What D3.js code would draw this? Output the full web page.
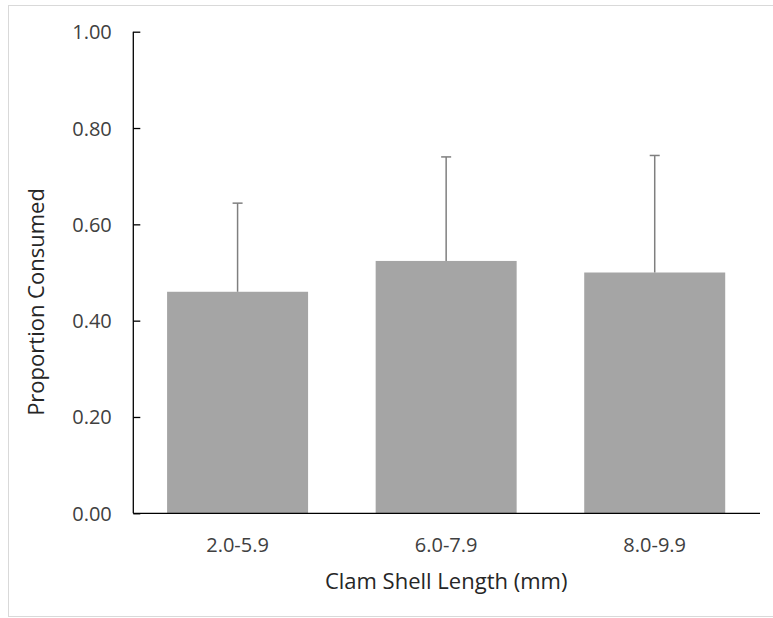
<!DOCTYPE html>
<html>
<head>
<meta charset="utf-8">
<script src="https://cdn.jsdelivr.net/npm/d3@7"></script>
<style>
  html, body { margin: 0; padding: 0; background: #ffffff; }
  svg { display: block; }
  text { font-family: "Open Sans", "Noto Sans", sans-serif; }
</style>
</head>
<body>
<script>
const categories = ["2.0-5.9", "6.0-7.9", "8.0-9.9"];
const proportions = [0.460, 0.524, 0.500];
const errors = [0.184, 0.216, 0.243];
const yTicks = [0, 0.2, 0.4, 0.6, 0.8, 1.0];
const xTitle = "Clam Shell Length (mm)";
const yTitle = "Proportion Consumed";

const W = 773, H = 618;
const svg = d3.select("body").append("svg").attr("width", W).attr("height", H);

// chart border
svg.append("rect")
  .attr("x", 8.5).attr("y", 5.5)
  .attr("width", 800).attr("height", 611)
  .attr("fill", "none").attr("stroke", "#d9d9d9").attr("stroke-width", 1);

const x0 = 133.3, x1 = 759, yTop = 31.7, yBot = 513.3;

const x = d3.scaleBand().domain(categories).range([x0, x1])
  .paddingInner(0.324).paddingOuter(0.162);
const y = d3.scaleLinear().domain([0, 1]).range([yBot, yTop]);

// bars
svg.append("g").selectAll("rect").data(categories).join("rect")
  .attr("x", d => x(d))
  .attr("y", (d, i) => y(proportions[i]))
  .attr("width", x.bandwidth())
  .attr("height", (d, i) => yBot - y(proportions[i]))
  .attr("fill", "#a5a5a5");

// error bars (upper only)
const eg = svg.append("g").attr("stroke", "#7f7f7f").attr("stroke-width", 1.5);
categories.forEach((c, i) => {
  const cx = x(c) + x.bandwidth() / 2;
  eg.append("line").attr("x1", cx).attr("x2", cx)
    .attr("y1", y(proportions[i])).attr("y2", y(proportions[i] + errors[i]));
  eg.append("line").attr("x1", cx - 5).attr("x2", cx + 5)
    .attr("y1", y(proportions[i] + errors[i])).attr("y2", y(proportions[i] + errors[i]));
});

// y axis
const yAxis = d3.axisRight(y).tickValues(yTicks).tickFormat(d3.format(".2f")).tickSize(7);
const ya = svg.append("g").attr("transform", `translate(${x0},0)`).call(yAxis);
ya.select(".domain").attr("stroke", "#000").attr("stroke-width", 1.3)
  .attr("d", `M0,${yTop}V${yBot}`);
ya.selectAll(".tick line").attr("stroke", "#000").attr("stroke-width", 1.3);
ya.selectAll(".tick text")
  .attr("x", -21.5).attr("dy", "0.35em")
  .attr("text-anchor", "end")
  .attr("fill", "#404040").attr("font-size", 20)
  .attr("font-family", "'Open Sans', sans-serif");

// x axis
const xAxis = d3.axisBottom(x).tickSize(0).tickPadding(0);
const xa = svg.append("g").attr("transform", `translate(0,${yBot})`).call(xAxis);
xa.select(".domain").attr("stroke", "#000").attr("stroke-width", 1.3)
  .attr("d", `M${x0},0H${x1 + 1}`);
xa.selectAll(".tick text")
  .attr("y", 39).attr("dy", 0)
  .attr("fill", "#404040").attr("font-size", 20)
  .attr("font-family", "'Open Sans', sans-serif");

// axis titles
svg.append("text")
  .attr("x", (x0 + x1) / 2).attr("y", 589)
  .attr("text-anchor", "middle")
  .attr("fill", "#262626").attr("font-size", 22)
  .text(xTitle);

svg.append("text")
  .attr("transform", "translate(43.5,302) rotate(-90)")
  .attr("text-anchor", "middle")
  .attr("fill", "#262626").attr("font-size", 22)
  .text(yTitle);
</script>
</body>
</html>
